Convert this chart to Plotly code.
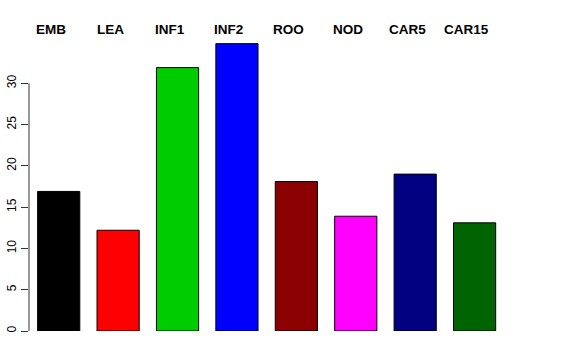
import plotly.graph_objects as go

categories = ["EMB", "LEA", "INF1", "INF2", "ROO", "NOD", "CAR5", "CAR15"]
values = [16.9, 12.2, 31.9, 34.8, 18.1, 13.9, 19.0, 13.1]
colors = ["#000000", "#FF0000", "#00CD00", "#0000FF", "#8B0000", "#FF00FF", "#000080", "#006400"]
y_ticks = [0, 5, 10, 15, 20, 25, 30]

x = list(range(len(categories)))

fig = go.Figure()
fig.add_trace(go.Bar(
    x=x, y=values, width=0.71,
    marker=dict(color=colors, line=dict(color="black", width=1)),
    hoverinfo="skip",
))

for i, c in enumerate(categories):
    fig.add_annotation(x=i, y=1, xref="x", yref="paper", text="<b>%s</b>" % c,
                       showarrow=False, xshift=-8, yshift=13, yanchor="middle",
                       font=dict(family="Liberation Sans, Arial, sans-serif", size=13.5, color="black"))

# R-style axis line spanning only the ticks
fig.add_shape(type="line", xref="paper", yref="y", x0=0, x1=0, y0=y_ticks[0], y1=y_ticks[-1],
              line=dict(color="#333333", width=1))

fig.update_layout(
    width=576, height=360,
    margin=dict(l=29, r=42, t=42, b=29, autoexpand=False),
    plot_bgcolor="white", paper_bgcolor="white",
    showlegend=False,
    xaxis=dict(range=[-0.5, 8.0], showticklabels=False, showgrid=False, zeroline=False,
               showline=False, ticks="", automargin=False),
    yaxis=dict(range=[0, 35], tickvals=y_ticks, ticktext=[str(v) for v in y_ticks],
               tickangle=-90, ticks="outside", ticklen=7, tickcolor="#333333",
               showgrid=False, zeroline=False, showline=False, automargin=False,
               tickfont=dict(family="Liberation Sans, Arial, sans-serif", size=12, color="black")),
)

fig.write_html("out.html", config={"displayModeBar": False},
               post_script="document.body.style.margin='0';")
